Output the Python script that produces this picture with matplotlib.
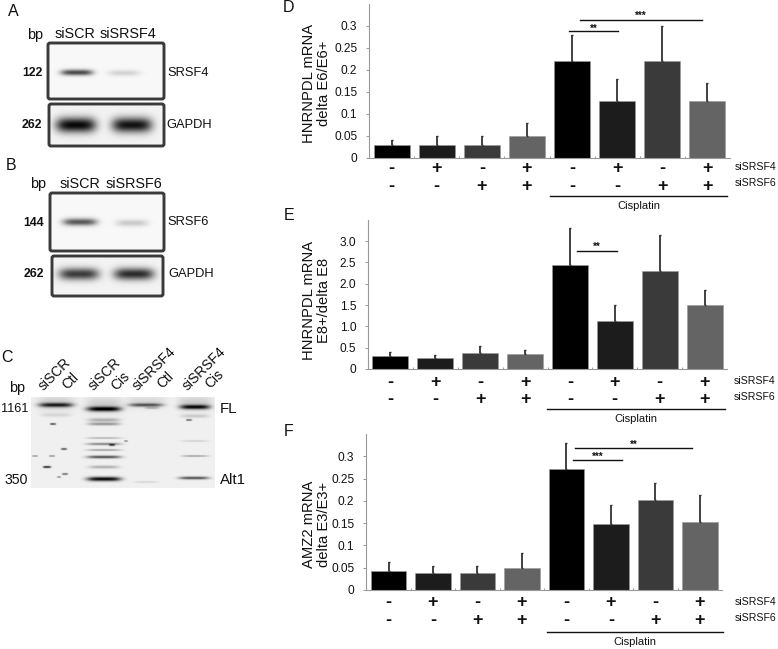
import numpy as np
import matplotlib
matplotlib.use('Agg')
import matplotlib.pyplot as plt
from matplotlib.patches import FancyBboxPatch

plt.rcParams['font.family'] = ['Liberation Sans', 'DejaVu Sans']

W, H = 778, 649

# bar values and upper ends of the error bars
d_vals = [0.03, 0.03, 0.03, 0.05, 0.22, 0.13, 0.22, 0.13]
d_tops = [0.04, 0.05, 0.05, 0.08, 0.28, 0.18, 0.30, 0.17]
e_vals = [0.30, 0.25, 0.38, 0.34, 2.43, 1.12, 2.30, 1.50]
e_tops = [0.39, 0.32, 0.53, 0.45, 3.30, 1.50, 3.15, 1.85]
f_vals = [0.042, 0.039, 0.039, 0.05, 0.272, 0.148, 0.202, 0.152]
f_tops = [0.062, 0.054, 0.053, 0.082, 0.33, 0.19, 0.24, 0.213]

bar_cols = ['#000000', '#1c1c1c', '#3a3a3a', '#646464',
            '#000000', '#1c1c1c', '#3a3a3a', '#646464']
srsf4_row = ['-', '+', '-', '+', '-', '+', '-', '+']
srsf6_row = ['-', '-', '+', '+', '-', '-', '+', '+']

small_ticks = [0, 0.05, 0.1, 0.15, 0.2, 0.25, 0.3]
small_labels = ['0', '0.05', '0.1', '0.15', '0.2', '0.25', '0.3']
e_ticks = [0, 0.5, 1, 1.5, 2, 2.5, 3]
e_labels = ['0', '0.5', '1.0', '1.5', '2.0', '2.5', '3.0']

# gel bands: centre x, centre y, half width, half height, darkness
gel_a1 = [(77, 72.5, 16, 3, 0.68), (124, 73, 16, 3, 0.14)]
gel_a2 = [(76, 125, 20, 7.5, 0.92), (132, 125, 20, 7.5, 0.88)]
gel_b1 = [(80, 222, 17, 3.6, 0.62), (132, 223, 16, 3.4, 0.18)]
gel_b2 = [(79, 274, 20, 6, 0.72), (134, 274, 20, 6, 0.78)]
gel_c = [(56, 403, 18, 7, 0.14), (104, 405, 18, 8, 0.14), (146, 402, 19, 6, 0.10), (195, 403, 17, 7, 0.14),
         (56, 405, 17, 2.2, 0.72), (56, 415, 15, 2, 0.10), (53, 424, 3, 1, 0.6),
         (64, 449, 3, 1, 0.6), (52, 456, 3, 0.9, 0.35), (47, 467, 4, 1.1, 0.75),
         (65, 474, 3, 1, 0.5), (59, 477, 2, 0.8, 0.4), (35, 456, 3, 0.7, 0.4),
         (104, 409, 17, 2.4, 0.88), (104, 420, 16, 2, 0.25), (104, 424, 16, 1.5, 0.35),
         (104, 438, 17, 1, 0.22), (104, 444, 17, 1.3, 0.4), (104, 450, 17, 1, 0.3),
         (104, 457, 17, 1.5, 0.6), (104, 467, 15, 1.6, 0.25), (104, 479, 17, 2.2, 0.9),
         (112, 445, 3, 1.2, 0.5),
         (146, 405, 17, 1.8, 0.55), (152, 408, 7, 1.2, 0.2), (146, 482, 12, 1, 0.1),
         (126, 441, 2, 0.8, 0.4),
         (195, 407, 15, 2.3, 0.82), (195, 416, 14, 1.8, 0.15), (189, 420, 3, 1, 0.5),
         (195, 441, 13, 1, 0.12), (195, 456, 13, 0.9, 0.3), (194, 478, 15, 1.5, 0.6)]


def gel_image(x0, x1, y0, y1, bands, bg):
    xx, yy = np.meshgrid(np.arange(x0, x1) + 0.5, np.arange(y0, y1) + 0.5)
    img = np.full(xx.shape, bg, dtype=float)
    for xc, yc, hw, hh, dark in bands:
        img -= dark * np.exp(-np.abs((xx - xc) / hw) ** 4) * np.exp(-((yy - yc) / hh) ** 2)
    return np.clip(img, 0, 1)


fig = plt.figure(figsize=(W / 100, H / 100), dpi=100)
over = fig.add_axes([0, 0, 1, 1], zorder=5)
over.patch.set_alpha(0)
over.set_xlim(0, W)
over.set_ylim(H, 0)
over.axis('off')


def draw_gel(x0, x1, y0, y1, bands, bg=0.97, frame=True):
    over.imshow(gel_image(x0, x1, y0, y1, bands, bg), extent=(x0, x1, y1, y0),
                cmap='gray', vmin=0, vmax=1, aspect='auto', interpolation='bilinear')
    if frame:
        over.add_patch(FancyBboxPatch((x0, y0), x1 - x0, y1 - y0,
                                      boxstyle='round,pad=0,rounding_size=2',
                                      fc='none', ec='#3a3a3a', lw=2.1))


draw_gel(48, 164, 43, 99, gel_a1)
draw_gel(49, 164, 104, 146, gel_a2, bg=0.95)
draw_gel(50, 164, 193, 251, gel_b1)
draw_gel(52, 163, 256, 296, gel_b2, bg=0.95)
draw_gel(31, 215, 397, 488, gel_c, bg=0.94, frame=False)
over.set_xlim(0, W)
over.set_ylim(H, 0)


def txt(x, y, s, size=8.8, ha='center', va='center', **kw):
    over.text(x, y, s, fontsize=size, ha=ha, va=va, color='#111111', **kw)


# left side labels
for x, y, s in [(13, 11, 'A'), (11, 166, 'B'), (7, 358, 'C'), (289, 8, 'D'), (289, 216, 'E'), (289, 432, 'F')]:
    txt(x, y, s, size=11.5)
for x, y, s in [(35, 35, 'bp'), (75, 34, 'siSCR'), (128, 34, 'siSRSF4'),
                (38, 184, 'bp'), (80, 184, 'siSCR'), (134, 184, 'siSRSF6')]:
    txt(x, y, s, size=10.4)
for x, y, s in [(32, 73, '122'), (32, 125, '262'), (34, 223, '144'), (34, 274, '262')]:
    txt(x, y, s, fontweight='bold', size=8.8)
for x, y, s in [(167, 73, 'SRSF4'), (166, 125, 'GAPDH'), (167, 222, 'SRSF6'), (168, 274, 'GAPDH')]:
    txt(x, y, s, size=9.3, ha='left')
txt(17, 388, 'bp', size=10.4)
txt(15, 409, '1161', size=9.2)
txt(16, 480, '350', size=10.2)
txt(220, 409, 'FL', size=10.8, ha='left')
txt(220, 480, 'Alt1', size=10.8, ha='left')
for x, y, s in [(46, 393, 'siSCR'), (69, 392, 'Ctl'), (96, 393, 'siSCR'), (118, 393, 'Cis'),
                (140, 393, 'siSRSF4'), (164, 391, 'Ctl'), (190, 393, 'siSRSF4'), (212, 391, 'Cis')]:
    over.text(x, y, s, fontsize=10, rotation=45, rotation_mode='anchor',
              ha='left', va='bottom', color='#111111', transform=over.transData)


def bar_panel(x0, x1, ytop, y0, vals, tops, ticks, labels, ymax, row_ys, name_ys, name_x,
              cis, cis_text_y, ylab, ylab_xy):
    ax = fig.add_axes([x0 / W, 1 - y0 / H, (x1 - x0) / W, (y0 - ytop) / H])
    xs = np.arange(len(vals))
    ups = [t - v for t, v in zip(tops, vals)]
    ax.bar(xs, vals, width=0.8, color=bar_cols, edgecolor='#999999', linewidth=0.4,
           yerr=[[0] * len(vals), ups], ecolor='#333333',
           error_kw={'elinewidth': 1.3, 'capsize': 1, 'capthick': 1})
    ax.set_xlim(-0.5, len(vals) - 0.5)
    ax.set_ylim(0, ymax)
    ax.set_xticks(xs[:-1] + 0.5)
    ax.set_xticklabels([])
    ax.set_yticks(ticks)
    ax.set_yticklabels(labels, fontsize=8.6, color='#111111')
    ax.tick_params(axis='y', length=2.5, width=0.7, color='#999999', pad=6)
    ax.tick_params(axis='x', length=1.5, width=0.7, color='#999999', direction='in')
    for side in ['top', 'right']:
        ax.spines[side].set_visible(False)
    for side in ['left', 'bottom']:
        ax.spines[side].set_color('#999999')
        ax.spines[side].set_linewidth(0.8)
    trans = ax.get_xaxis_transform()
    for row, py in zip([srsf4_row, srsf6_row], row_ys):
        frac = (y0 - py) / (y0 - ytop)
        for x, s in zip(xs, row):
            ax.text(x, frac, s, transform=trans, fontsize=13, fontweight='bold',
                    ha='center', va='center', clip_on=False, color='#111111')
    txt(name_x, name_ys[0], 'siSRSF4', size=7.6, ha='left')
    txt(name_x, name_ys[1], 'siSRSF6', size=7.6, ha='left')
    over.plot(cis[:2], [cis[2], cis[2]], color='#111111', lw=1)
    txt((cis[0] + cis[1]) / 2, cis_text_y, 'Cisplatin', size=8)
    over.text(ylab_xy[0], ylab_xy[1], ylab, fontsize=10.6, rotation=90, ha='center', va='center',
              ma='center', linespacing=1.1, color='#111111')


def sig(x0, x1, y, stars, star_y):
    over.plot([x0, x1], [y, y], color='#111111', lw=1)
    txt((x0 + x1) / 2, star_y, stars, size=7, fontweight='bold')


bar_panel(369, 730, 4, 157.7, d_vals, d_tops, small_ticks, small_labels, 0.35,
          (168.7, 186), (166.7, 182.7), 735, (550, 727, 195.7), 205.7,
          'HNRNPDL mRNA\ndelta E6/E6+', (316.5, 83))
bar_panel(368, 727, 219.7, 369, e_vals, e_tops, e_ticks, e_labels, 3.5,
          (382.7, 400), (380.7, 396.7), 734, (547, 725, 408.7), 419,
          'HNRNPDL mRNA\nE8+/delta E8', (316.5, 300))
bar_panel(366.3, 722, 434, 590, f_vals, f_tops, small_ticks, small_labels, 0.35,
          (602.7, 620.7), (601.7, 617.7), 734.3, (547, 723, 632), 642,
          'AMZ2 mRNA\ndelta E3/E3+', (316.5, 524))

sig(568.7, 618, 31, '**', 29)
sig(580, 702, 19.7, '***', 15.5)
sig(577, 617, 251, '**', 247)
sig(573, 622, 460, '***', 457)
sig(575, 692, 448, '**', 445)

over.set_xlim(0, W)
over.set_ylim(H, 0)
fig.savefig('out.png', dpi=100)
